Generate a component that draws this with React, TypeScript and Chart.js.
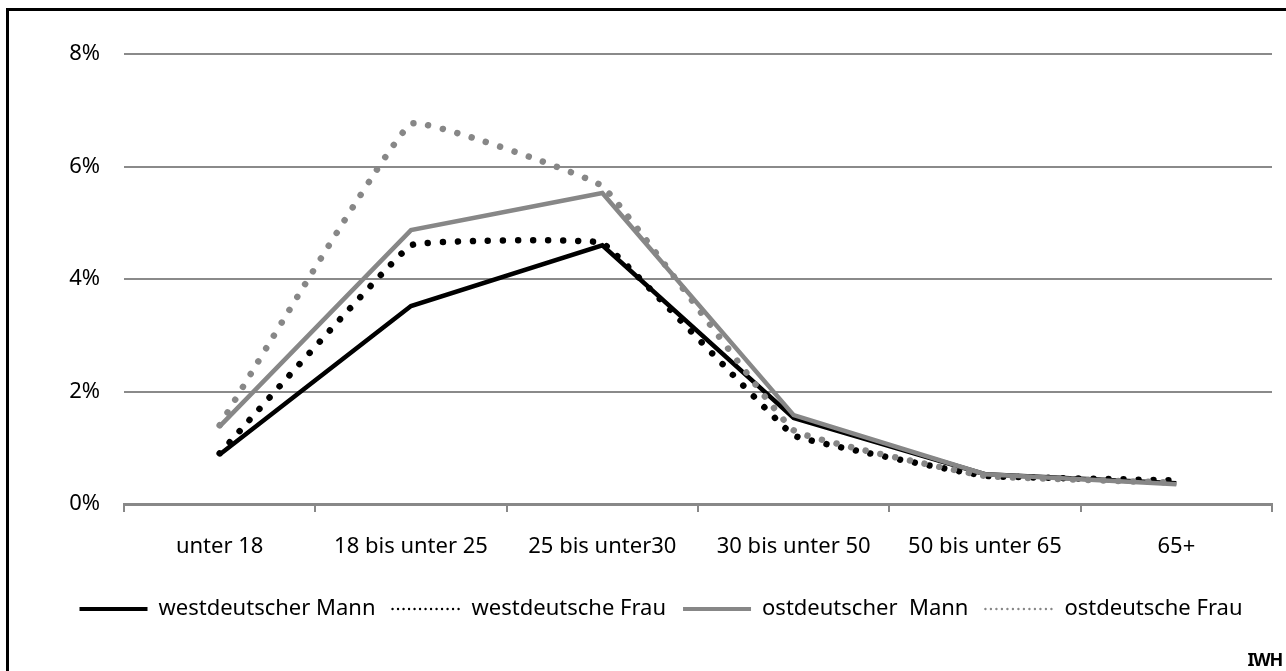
import React, { useEffect, useRef } from "react";
import { Chart, registerables } from "chart.js";

Chart.register(...registerables);

const categories = ["unter 18", "18 bis unter 25", "25 bis unter30", "30 bis unter 50", "50 bis unter 65", "65+"];
const westMann = [0.88, 3.52, 4.6, 1.53, 0.53, 0.37];
const westFrau = [0.9, 4.6, 4.64, 1.22, 0.5, 0.42];
const ostMann = [1.38, 4.87, 5.53, 1.58, 0.53, 0.35];
const ostFrau = [1.4, 6.76, 5.65, 1.31, 0.5, 0.38];
const seriesNames = ["westdeutscher Mann", "westdeutsche Frau", "ostdeutscher  Mann", "ostdeutsche Frau"];
const yTicks = [0, 2, 4, 6, 8];

const FONT = "'Noto Sans', 'DejaVu Sans', sans-serif";

export default function App() {
  const ref = useRef<HTMLCanvasElement | null>(null);

  useEffect(() => {
    if (!ref.current) return;
    const dotted = [0.001, 15];
    const chart = new Chart(ref.current, {
      type: "line",
      data: {
        labels: categories,
        datasets: [
          {
            label: seriesNames[0],
            data: westMann,
            borderColor: "#000000",
            backgroundColor: "#000000",
            borderWidth: 4.5,
            pointRadius: 0,
            tension: 0,
            order: 4,
          },
          {
            label: seriesNames[1],
            data: westFrau,
            borderColor: "#000000",
            backgroundColor: "#000000",
            borderWidth: 6.5,
            borderDash: dotted,
            borderCapStyle: "round",
            pointRadius: 0,
            tension: 0.06,
            order: 3,
          },
          {
            label: seriesNames[2],
            data: ostMann,
            borderColor: "#878787",
            backgroundColor: "#878787",
            borderWidth: 4.5,
            pointRadius: 0,
            tension: 0,
            order: 2,
          },
          {
            label: seriesNames[3],
            data: ostFrau,
            borderColor: "#878787",
            backgroundColor: "#878787",
            borderWidth: 6.5,
            borderDash: dotted,
            borderCapStyle: "round",
            pointRadius: 0,
            tension: 0.08,
            order: 1,
          },
        ],
      },
      options: {
        responsive: false,
        animation: false,
        layout: { padding: { left: 50, right: 14, top: 54, bottom: 41 } },
        plugins: {
          tooltip: { enabled: false },
          title: { display: false },
          legend: {
            position: "bottom",
            labels: {
              usePointStyle: true,
              pointStyle: "line",
              pointStyleWidth: 68,
              padding: 17,
              color: "#000000",
              font: { family: FONT, size: 22 },
              sort: (a: any, b: any) => a.datasetIndex - b.datasetIndex,
              generateLabels: (ch: any) =>
                ch.data.datasets.map((ds: any, i: number) => {
                  const isDot = i === 1 || i === 3;
                  return {
                    text: ds.label,
                    datasetIndex: i,
                    fillStyle: ds.borderColor,
                    strokeStyle: ds.borderColor,
                    lineWidth: isDot ? 2.4 : 4,
                    lineDash: isDot ? [0.001, 5.5] : [],
                    lineCap: isDot ? "round" : "butt",
                    pointStyle: "line",
                    hidden: false,
                    fontColor: "#000000",
                  };
                }),
            },
          },
        },
        scales: {
          x: {
            type: "category",
            offset: true,
            afterFit: (s: any) => {
              s.height = 77;
            },
            grid: {
              display: true,
              offset: true,
              drawOnChartArea: false,
              drawTicks: true,
              tickLength: 8,
              color: "#888888",
              lineWidth: 2,
            },
            border: { display: true, color: "#888888", width: 3 },
            ticks: {
              color: "#000000",
              padding: 22,
              maxRotation: 0,
              autoSkip: false,
              font: { family: FONT, size: 22 },
            },
          },
          y: {
            min: 0,
            max: 8,
            afterFit: (s: any) => {
              s.width = 74;
            },
            afterBuildTicks: (s: any) => {
              s.ticks = yTicks.map((v) => ({ value: v }));
            },
            grid: {
              color: "#8a8a8a",
              lineWidth: 2,
              drawTicks: false,
            },
            border: { display: false },
            ticks: {
              color: "#000000",
              padding: 24,
              font: { family: FONT, size: 22 },
              callback: (v: any) => v + "%",
            },
          },
        },
      },
    });
    return () => chart.destroy();
  }, []);

  return (
    <div>
      <div
        style={{
          position: "fixed",
          left: 6,
          top: 8,
          width: 1400,
          height: 800,
          border: "3px solid #000",
          boxSizing: "border-box",
        }}
      />
      <canvas
        ref={ref}
        width={1286}
        height={671}
        style={{ position: "fixed", left: 0, top: 0, width: 1286, height: 671 }}
      />
      <div
        style={{
          position: "fixed",
          right: 4,
          top: 647,
          fontFamily: FONT,
          fontWeight: "bold",
          fontSize: 18,
          letterSpacing: -1.2,
          color: "#000",
        }}
      >
        IWH
      </div>
    </div>
  );
}
